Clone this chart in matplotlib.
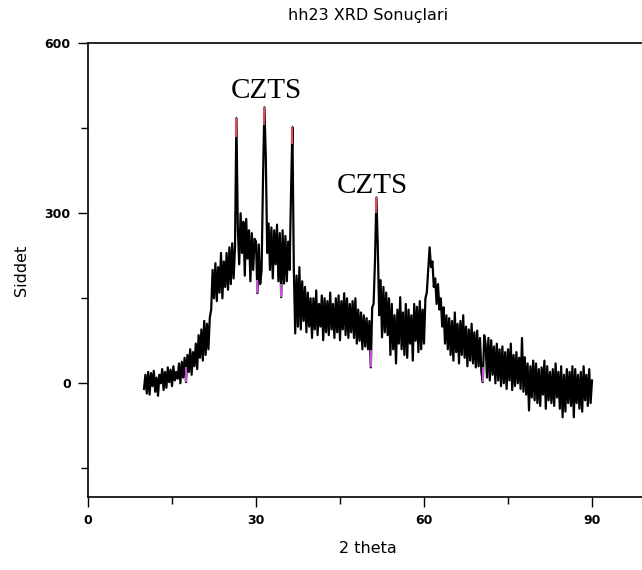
import numpy as np
import matplotlib
matplotlib.use("Agg")
import matplotlib.pyplot as plt

# XRD scan, 2-theta from 10 to 90 deg in 0.25 deg steps
two_theta = np.arange(10, 90.001, 0.25)
intensity = [
    -10, 15, -18, 20,   -20, 18, -5, 22,   -15, 10, -22, 15,   0, 25, -12, 20,      # 10-13
    -8, 28, 2, 24,      -5, 30, 5, 20,     8, 35, 0, 38,       10, 45, 2, 50,       # 14-17
    20, 60, 15, 55,     30, 70, 25, 85,    45, 95, 40, 110,    50, 105, 60, 116,    # 18-21
    130, 200, 150, 212, 145, 205, 160, 230, 150, 215, 170, 230, 165, 240, 175, 247, # 22-25
    185, 240, 468, 275, 210, 300, 230, 285, 190, 290, 220, 270, 180, 265, 200, 255, # 26-29
    250, 159, 245, 175, 200, 360, 487, 400, 230, 282, 200, 275, 185, 270, 210, 280, # 30-33
    180, 265, 152, 270, 176, 260, 180, 250, 200, 335, 452, 205, 88, 190, 100, 205,  # 34-37
    95, 180, 110, 170,  90, 160, 100, 150, 80, 150, 95, 164,   85, 140, 100, 155,   # 38-41
    76, 150, 90, 145,   85, 160, 95, 140,  80, 150, 90, 155,   76, 145, 95, 159,    # 42-45
    85, 150, 80, 140,   90, 145, 80, 150,  70, 130, 75, 125,   60, 120, 65, 115,    # 46-49
    60, 110, 28, 134,   140, 217, 328, 240, 120, 182, 81, 170, 90, 160, 85, 150,    # 50-53
    50, 140, 60, 120,   35, 130, 70, 152,  60, 125, 50, 140,   45, 130, 70, 120,    # 54-57
    40, 140, 75, 135,   55, 145, 60, 130,  70, 150, 160, 200,  240, 205, 215, 170,  # 58-61
    185, 140, 175, 130, 150, 100, 134, 70, 120, 60, 115, 50,   110, 40, 125, 55,    # 62-65
    105, 35, 110, 50,   120, 45, 100, 30,  95, 40, 105, 35,    90, 28, 93, 30,      # 66-69
    80, 20, 2, 85,      70, 10, 80, 5,     76, 15, 65, 0,      70, 5, 60, -5,       # 70-73
    65, 0, 55, -10,     60, 5, 70, -12,    50, -5, 55, 0,      45, -10, 80, -15,    # 74-77
    46, -20, 35, -48,   30, -25, 40, -30,  35, -35, 25, -40,   28, -20, 40, -45,    # 78-81
    30, -30, 20, -35,   25, -40, 35, -25,  20, -45, 30, -60,   15, -50, 25, -35,    # 82-85
    20, -40, 30, -60,   25, -35, 15, -45,  20, -50, 30, -30,   15, -40, 25, -35,    # 86-89
    5,
]

# reflections flagged in red (lower end of the red tip)
peak_pos = [26.5, 31.5, 36.5, 51.5]
peak_tip_lo = [434, 455, 423, 300]

# dips flagged in magenta (upper end of the magenta tip)
dip_pos = [17.5, 30.25, 34.5, 50.5, 70.5]
dip_tip_hi = [28, 182, 176, 58, 28]

labels = ["CZTS", "CZTS"]
label_x = [31.8, 50.8]
label_y = [503, 335]

intensity = np.array(intensity, dtype=float)


def value_at(x):
    return intensity[int(round((x - two_theta[0]) / 0.25))]


fig = plt.figure(figsize=(6.42, 5.7), dpi=100)
ax = fig.add_axes([88 / 642, 73.4 / 570, 560 / 642, 453.3 / 570])

ax.plot(two_theta, intensity, color="black", lw=1.6)

peak_top = [value_at(x) for x in peak_pos]
ax.vlines(peak_pos, peak_tip_lo, peak_top, color="#e04a5c", lw=1.5, zorder=3)

dip_bottom = [value_at(x) for x in dip_pos]
ax.vlines(dip_pos, dip_bottom, dip_tip_hi, color="#c94fdc", lw=1.5, zorder=3)

for txt, x, y in zip(labels, label_x, label_y):
    ax.text(x, y, txt, ha="center", va="baseline", fontsize=21,
            family="Liberation Serif", color="black")

ax.set_xlim(0, 100)
ax.set_ylim(-200, 600)
ax.set_xticks([0, 30, 60, 90])
ax.set_xticks([15, 45, 75], minor=True)
ax.set_yticks([0, 300, 600])
ax.set_yticks([-150, 150, 450], minor=True)
ax.tick_params(which="major", direction="out", length=7.5, width=1.0,
               labelsize=9, pad=5)
ax.tick_params(which="minor", direction="out", length=5, width=1.0)
ax.tick_params(top=False, right=False)
for lbl in ax.get_xticklabels() + ax.get_yticklabels():
    lbl.set_fontweight("bold")
for s in ax.spines.values():
    s.set_linewidth(1.2)

ax.set_title("hh23 XRD Sonuçlari", fontsize=11.5, pad=17)
ax.set_xlabel("2 theta", fontsize=11.5, labelpad=10)
ax.set_ylabel("Siddet", fontsize=11.5, labelpad=11)

fig.savefig("out.png", dpi=100)
